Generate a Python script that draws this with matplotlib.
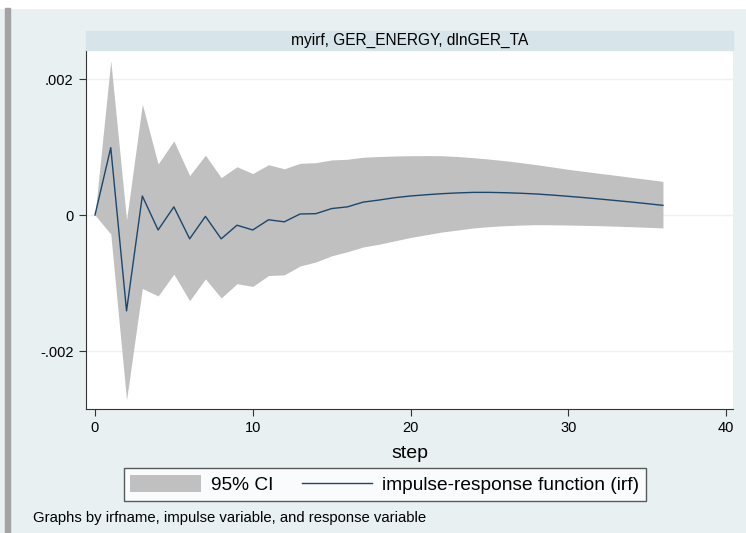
import numpy as np
import matplotlib.pyplot as plt
from matplotlib.patches import Rectangle

plt.rcParams["font.family"] = ["Liberation Sans", "DejaVu Sans"]

steps = list(range(37))
irf = [0, 0.00099, -0.00141, 0.00028, -0.00022, 0.00012, -0.00035, -0.00002,
       -0.00035, -0.00015, -0.00022, -0.00007, -0.00010, 0.000015, 0.00002,
       0.000095, 0.00012, 0.00019, 0.00022, 0.000255, 0.00028, 0.000298,
       0.000314, 0.000325, 0.000333, 0.000333, 0.000328, 0.00032, 0.000309,
       0.000293, 0.000275, 0.000256, 0.000235, 0.000213, 0.000191, 0.000167,
       0.000142]
upper = [0, 0.00227, -0.00007, 0.00163, 0.00075, 0.00109, 0.00058, 0.00088,
         0.00055, 0.00071, 0.00061, 0.00074, 0.00068, 0.00076, 0.00077,
         0.00081, 0.00082, 0.00085, 0.00086, 0.000868, 0.000872, 0.000874,
         0.000872, 0.00086, 0.000843, 0.000822, 0.000799, 0.00077, 0.00074,
         0.000706, 0.000672, 0.000642, 0.000613, 0.000584, 0.000554, 0.000525,
         0.000495]
lower = [0, -0.00028, -0.00272, -0.00108, -0.00119, -0.00087, -0.00126,
         -0.00094, -0.00122, -0.00101, -0.00105, -0.00089, -0.00088, -0.00075,
         -0.00069, -0.00060, -0.00054, -0.00047, -0.00043, -0.00038, -0.00033,
         -0.00029, -0.00025, -0.00022, -0.00019, -0.00017, -0.000157,
         -0.000148, -0.000142, -0.000144, -0.000147, -0.000152, -0.000157,
         -0.000164, -0.000172, -0.00018, -0.00019]

yticks = [-0.002, 0, 0.002]
ytick_labels = ["-.002", "0", ".002"]
xticks = [0, 10, 20, 30, 40]

W, H = 746, 533
bg = "#e8f0f2"
fig = plt.figure(figsize=(W / 100, H / 100), dpi=100, facecolor=bg)

# white band on top and grey bar on the left
fig.patches.append(Rectangle((0, 1 - 8 / H), 1, 8 / H, transform=fig.transFigure,
                             color="white", zorder=0))
fig.patches.append(Rectangle((5 / W, 0), 5 / W, 1 - 8 / H, transform=fig.transFigure,
                             color="#a3a3a3", zorder=0))

# title strip
fig.patches.append(Rectangle((86 / W, 1 - 50 / H), (733 - 86) / W, 19 / H,
                             transform=fig.transFigure, color="#d7e4ea", zorder=1))
fig.text((86 + 733) / 2 / W, 1 - 40.5 / H, "myirf, GER_ENERGY, dlnGER_TA",
         ha="center", va="center", fontsize=11.2)

ax = fig.add_axes([86 / W, 1 - 409 / H, (733 - 86) / W, (409 - 50) / H])
ax.set_facecolor("white")

ax.fill_between(steps, lower, upper, color="#c0c0c0", linewidth=0, label="95% CI")
ax.plot(steps, irf, color="#1a476f", linewidth=1.0,
        label="impulse-response function (irf)")

ax.set_xlim(-0.57, 40.44)
ax.set_ylim(-0.002853, 0.002427)
ax.set_yticks(yticks)
ax.set_yticklabels(ytick_labels)
ax.set_xticks(xticks)
ax.grid(axis="y", color="#eaf2f3", linewidth=1)
ax.set_axisbelow(True)

for s in ["top", "right"]:
    ax.spines[s].set_visible(False)
for s in ["left", "bottom"]:
    ax.spines[s].set_color("#333333")
    ax.spines[s].set_linewidth(0.8)
ax.tick_params(length=5, width=0.8, color="#333333", labelsize=10.5, pad=4)

ax.set_xlabel("step", fontsize=14, labelpad=7)

handles, labels = ax.get_legend_handles_labels()
leg = fig.legend(handles, labels, loc="center", ncol=2,
                 bbox_to_anchor=(385 / W, 1 - 484.5 / H), fontsize=13.8,
                 frameon=True, fancybox=False, edgecolor="#333333",
                 handlelength=3.7, handleheight=0.95, columnspacing=1.45,
                 borderpad=0.35, handletextpad=0.52)
leg.get_frame().set_linewidth(1.0)

fig.text(33 / W, 1 - 518 / H,
         "Graphs by irfname, impulse variable, and response variable",
         ha="left", va="center", fontsize=10.7)

fig.savefig("out.png", dpi=100, facecolor=fig.get_facecolor())
